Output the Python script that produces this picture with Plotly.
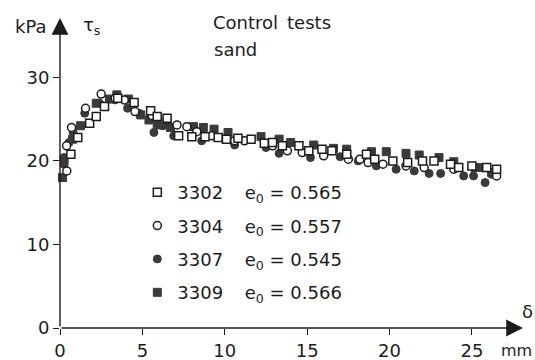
import plotly.graph_objects as go

# ---- data ----
x_3302 = [0.66, 1.08, 1.8, 2.2, 2.7, 3.5, 4.5, 5.5, 5.9, 6.5, 7.2, 8.0, 8.8, 9.6, 10.1, 10.8, 11.6, 12.4, 12.9, 13.5,
          14.5, 15.1, 15.9, 16.5, 17.4, 18.6, 19.1, 20.2, 21.1, 22.0, 22.7, 23.7, 24.2, 25.0, 25.9, 26.5]
y_3302 = [20.8, 22.8, 24.5, 25.3, 26.5, 27.5, 27.0, 26.0, 25.3, 25.1, 23.0, 22.9, 22.9, 22.8, 22.6, 22.7, 22.6, 22.1, 22.2, 21.8,
          21.8, 21.2, 21.4, 21.2, 20.8, 20.8, 20.2, 20.0, 19.8, 20.0, 20.0, 19.6, 19.2, 19.4, 19.2, 19.0]

x_3304 = [0.41, 0.4, 0.7, 1.55, 2.5, 3.35, 3.9, 4.55, 5.6, 6.5, 7.1, 7.7, 8.3, 9.2, 10.6, 11.2, 12.9, 13.8,
          14.7, 16.0, 17.5, 18.2, 18.7, 19.6, 21.0, 22.1, 23.9, 26.5]
y_3304 = [18.8, 21.8, 24.0, 26.3, 28.0, 27.5, 27.3, 25.9, 25.4, 24.9, 24.3, 24.1, 23.5, 23.0, 22.4, 22.4, 21.8, 21.2,
          21.0, 20.6, 20.2, 20.2, 19.8, 19.6, 19.4, 19.2, 19.0, 18.2]

x_3307 = [0.25, 0.25, 0.55, 0.8, 1.5, 2.4, 3.35, 4.1, 4.8, 5.7, 6.25, 6.9, 8.6, 10.6, 12.5, 13.3, 15.2, 17.0,
          18.1, 19.2, 20.4, 21.5, 22.4, 23.1, 24.5, 25.1, 25.8, 26.2]
y_3307 = [19.6, 20.4, 22.2, 23.4, 25.7, 26.9, 27.3, 26.3, 25.7, 23.4, 24.2, 23.0, 22.4, 21.9, 21.6, 20.9, 20.4, 20.5,
          20.0, 19.4, 19.0, 18.8, 18.5, 18.5, 18.2, 18.2, 17.4, 18.4]

x_3309 = [0.15, 0.25, 0.77, 1.25, 2.2, 3.0, 3.45, 4.15, 4.9, 5.4, 5.9, 6.7, 8.1, 8.7, 9.35, 10.2, 12.2, 13.3, 14.0,
          15.4, 16.6, 17.4, 18.9, 19.8, 21.0, 21.8, 23.0, 23.9, 25.2, 25.7, 26.2]
y_3309 = [18.0, 20.2, 22.6, 24.2, 26.9, 27.4, 27.9, 27.4, 25.5, 24.9, 24.3, 24.0, 24.1, 24.0, 23.8, 23.4, 22.9, 22.6, 22.2,
          21.9, 21.5, 21.4, 21.1, 21.1, 20.9, 20.7, 20.4, 19.9, 19.2, 19.2, 18.6]

series_names = ["3302", "3304", "3307", "3309"]
void_ratios = ["0.565", "0.557", "0.545", "0.566"]
x_ticks = [0, 5, 10, 15, 20, 25]
y_ticks = [0, 10, 20, 30]

X_MAX = 28.1
Y_MAX = 37.1

DARK = "#3a3a3a"
INK = "#1c1c1c"
FONT = "DejaVu Sans"

fig = go.Figure()

specs = {
    "3309": (x_3309, y_3309, "square", DARK, DARK, 1),
    "3307": (x_3307, y_3307, "circle", DARK, DARK, 1),
    "3304": (x_3304, y_3304, "circle", "white", INK, 1.5),
    "3302": (x_3302, y_3302, "square", "white", INK, 1.5),
}
rank = {n: i for i, n in enumerate(series_names)}
e0 = dict(zip(series_names, void_ratios))

for name in ["3309", "3307", "3304", "3302"]:
    xs, ys, sym, fill, line, lw = specs[name]
    fig.add_trace(go.Scatter(
        x=xs, y=ys, mode="markers",
        name=name + "\u2002\u2002\u2009e<sub>0</sub> = " + e0[name],
        legendrank=rank[name] + 1,
        legendgroup=name,
        cliponaxis=False,
        marker=dict(symbol=sym, size=8, color=fill, line=dict(color=line, width=lw)),
    ))

# axis lines with arrowheads
fig.add_annotation(x=X_MAX, y=0, ax=0, ay=0, xref="x", yref="y", axref="x", ayref="y",
                   showarrow=True, arrowhead=2, arrowsize=2.4, arrowwidth=1.4, arrowcolor=INK, text="", standoff=0)
fig.add_annotation(x=0, y=Y_MAX, ax=0, ay=0, xref="x", yref="y", axref="x", ayref="y",
                   showarrow=True, arrowhead=2, arrowsize=2.4, arrowwidth=1.4, arrowcolor=INK, text="", standoff=0)

txt = dict(family=FONT, size=18, color=INK)
common = dict(xref="paper", yref="paper", showarrow=False, yanchor="middle")
fig.add_annotation(text="kPa", x=-0.0626, y=0.971, xanchor="center", font=txt, **common)
fig.add_annotation(text="τ<sub>s</sub>", x=0.067, y=0.975, xanchor="center", font=txt, **common)
fig.add_annotation(text="Control\u2002tests", x=0.326, y=0.984, xanchor="left", font=txt, **common)
fig.add_annotation(text="sand", x=0.328, y=0.897, xanchor="left", font=txt, **common)
fig.add_annotation(text="δ", x=1.009, y=0.052, xanchor="center", font=txt, **common)
fig.add_annotation(text="mm", x=0.987, y=-0.072, xanchor="center",
                   font=dict(family=FONT, size=16, color=INK), **common)

fig.update_layout(
    template="none",
    width=535, height=360,
    margin=dict(l=60, r=12, t=18, b=32),
    paper_bgcolor="white", plot_bgcolor="white",
    font=dict(family=FONT, size=18, color=INK),
    showlegend=True,
    legend=dict(x=0.167, y=0.497, xanchor="left", yanchor="top",
                bgcolor="rgba(0,0,0,0)", font=dict(family=FONT, size=18, color=INK),
                tracegroupgap=7, itemwidth=30),
    xaxis=dict(range=[0, X_MAX], tickvals=x_ticks, ticktext=[str(v) for v in x_ticks],
               automargin=False,
               showgrid=False, zeroline=False, showline=False,
               ticks="outside", ticklen=6, tickwidth=1.2, tickcolor=INK,
               tickfont=dict(family=FONT, size=18, color=INK)),
    yaxis=dict(range=[0, Y_MAX], tickvals=y_ticks, ticktext=[str(v) for v in y_ticks],
               automargin=False,
               showgrid=False, zeroline=False, showline=False,
               ticks="outside", ticklen=6, tickwidth=1.2, tickcolor=INK,
               tickfont=dict(family=FONT, size=18, color=INK)),
)

fig.write_html("out.html")
